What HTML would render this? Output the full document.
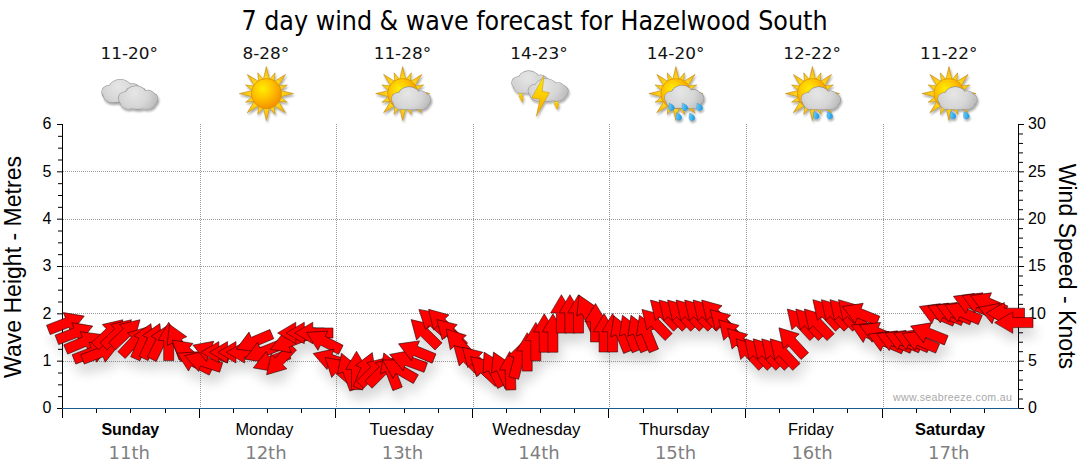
<!DOCTYPE html>
<html lang="en"><head><meta charset="utf-8"><title>7 day wind &amp; wave forecast for Hazelwood South</title>
<style>
html,body{margin:0;padding:0;background:#fff;}
body{width:1080px;height:475px;overflow:hidden;font-family:"Liberation Sans",sans-serif;}
svg{display:block;}
.ax{font-family:"Liberation Sans",sans-serif;font-size:16px;fill:#000;}
.ttl{font-family:"DejaVu Sans Condensed","DejaVu Sans",sans-serif;font-size:26.5px;fill:#000;}
.tmp{font-family:"DejaVu Sans","Liberation Sans",sans-serif;font-size:16.1px;fill:#111;}
.day{font-family:"Liberation Sans",sans-serif;font-size:16px;fill:#000;}
.dte{font-family:"DejaVu Sans","Liberation Sans",sans-serif;font-size:18px;fill:#7f7f7f;}
.ylab{font-family:"Liberation Sans",sans-serif;font-size:22px;fill:#000;}
.wm{font-family:"Liberation Sans",sans-serif;font-size:10.6px;fill:#a9a9a9;letter-spacing:.05px;}
</style></head><body>
<svg width="1080" height="475" viewBox="0 0 1080 475">
<defs>
<radialGradient id="gSun" cx="38%" cy="34%" r="70%">
 <stop offset="0" stop-color="#ffee00"/><stop offset=".45" stop-color="#ffc400"/><stop offset="1" stop-color="#f28c00"/>
</radialGradient>
<radialGradient id="gRay" gradientUnits="userSpaceOnUse" cx="0" cy="0" r="28">
 <stop offset=".5" stop-color="#ffdc1e"/><stop offset="1" stop-color="#f9a90a"/>
</radialGradient>
<radialGradient id="gCloud" gradientUnits="userSpaceOnUse" cx="16" cy="7" r="28">
 <stop offset="0" stop-color="#e6e6e6"/><stop offset=".5" stop-color="#d6d6d6"/><stop offset="1" stop-color="#b0b0b0"/>
</radialGradient>
<linearGradient id="gDrop" x1="0" y1="0" x2="1" y2="1">
 <stop offset="0" stop-color="#9be0ff"/><stop offset=".55" stop-color="#3fb4f0"/><stop offset="1" stop-color="#1490dc"/>
</linearGradient>
<linearGradient id="gBolt" x1="0" y1="0" x2="0" y2="1">
 <stop offset="0" stop-color="#fff200"/><stop offset="1" stop-color="#f7a400"/>
</linearGradient>
<filter id="sh" x="-5%" y="-50%" width="110%" height="250%">
 <feGaussianBlur in="SourceAlpha" stdDeviation="6"/>
 <feOffset dx="3" dy="10" result="b"/>
 <feComponentTransfer><feFuncA type="linear" slope=".16"/></feComponentTransfer>
</filter>
<filter id="ish" x="-20%" y="-20%" width="140%" height="150%">
 <feGaussianBlur in="SourceAlpha" stdDeviation="1.2"/>
 <feOffset dx="1" dy="1.5"/>
 <feComponentTransfer><feFuncA type="linear" slope=".35"/></feComponentTransfer>
 <feMerge><feMergeNode/><feMergeNode in="SourceGraphic"/></feMerge>
</filter>
<g id="cloud"><ellipse cx="7" cy="12.3" rx="7.55" ry="6.85" fill="#8f8f8f"/><ellipse cx="17.5" cy="9.2" rx="11.350000000000001" ry="9.75" fill="#8f8f8f"/><ellipse cx="29.5" cy="9.8" rx="6.75" ry="6.1499999999999995" fill="#8f8f8f"/><ellipse cx="32.6" cy="13" rx="7.35" ry="6.85" fill="#8f8f8f"/><ellipse cx="19.5" cy="15" rx="15.55" ry="8.65" fill="#8f8f8f"/><ellipse cx="10" cy="16.3" rx="8.75" ry="7.1499999999999995" fill="#8f8f8f"/><ellipse cx="28.5" cy="16.6" rx="9.15" ry="6.95" fill="#8f8f8f"/><ellipse cx="7" cy="12.3" rx="7" ry="6.3" fill="url(#gCloud)"/><ellipse cx="17.5" cy="9.2" rx="10.8" ry="9.2" fill="url(#gCloud)"/><ellipse cx="29.5" cy="9.8" rx="6.2" ry="5.6" fill="url(#gCloud)"/><ellipse cx="32.6" cy="13" rx="6.8" ry="6.3" fill="url(#gCloud)"/><ellipse cx="19.5" cy="15" rx="15" ry="8.1" fill="url(#gCloud)"/><ellipse cx="10" cy="16.3" rx="8.2" ry="6.6" fill="url(#gCloud)"/><ellipse cx="28.5" cy="16.6" rx="8.6" ry="6.4" fill="url(#gCloud)"/></g>
<path id="drop" d="M0,-5.2 C2.6,-2.2 3.9,-0.2 3.9,1.8 A3.9,3.9 0 0 1 -3.9,1.8 C-3.9,-0.2 -1.4,-2.6 0,-5.2 Z" fill="url(#gDrop)" stroke="#2a86c4" stroke-width=".5" transform="rotate(-28) scale(.74)"/>
<g id="sun">
<path d="M3.10,-14.00 L0.00,-27.00 L-3.10,-14.00 Z M7.67,-11.98 L8.61,-20.79 L3.05,-13.89 Z M12.09,-7.71 L19.09,-19.09 L7.71,-12.09 Z M13.89,-3.05 L20.79,-8.61 L11.98,-7.67 Z M14.00,3.10 L27.00,0.00 L14.00,-3.10 Z M11.98,7.67 L20.79,8.61 L13.89,3.05 Z M7.71,12.09 L19.09,19.09 L12.09,7.71 Z M3.05,13.89 L8.61,20.79 L7.67,11.98 Z M-3.10,14.00 L0.00,27.00 L3.10,14.00 Z M-7.67,11.98 L-8.61,20.79 L-3.05,13.89 Z M-12.09,7.71 L-19.09,19.09 L-7.71,12.09 Z M-13.89,3.05 L-20.79,8.61 L-11.98,7.67 Z M-14.00,-3.10 L-27.00,0.00 L-14.00,3.10 Z M-11.98,-7.67 L-20.79,-8.61 L-13.89,-3.05 Z M-7.71,-12.09 L-19.09,-19.09 L-12.09,-7.71 Z M-3.05,-13.89 L-8.61,-20.79 L-7.67,-11.98 Z" fill="url(#gRay)" stroke="#b98a12" stroke-width=".6" stroke-linejoin="round"/>
<circle r="15.1" fill="url(#gSun)" stroke="#d98e00" stroke-width=".7"/>
</g>
<path id="ar" d="M-19.2,-5 L1,-5 L1,-10.75 L19.2,0 L1,10.75 L1,5 L-19.2,5 Z"/>
</defs>
<rect width="1080" height="475" fill="#fff"/>
<text class="ttl" x="241.5" y="29.7" textLength="586" lengthAdjust="spacingAndGlyphs">7 day wind &amp; wave forecast for Hazelwood South</text>
<text class="tmp" x="129.3" y="59.2" text-anchor="middle" textLength="57.5" lengthAdjust="spacingAndGlyphs">11-20°</text>
<text class="tmp" x="265.9" y="59.2" text-anchor="middle" textLength="46.8" lengthAdjust="spacingAndGlyphs">8-28°</text>
<text class="tmp" x="402.4" y="59.2" text-anchor="middle" textLength="57.5" lengthAdjust="spacingAndGlyphs">11-28°</text>
<text class="tmp" x="539.0" y="59.2" text-anchor="middle" textLength="57.5" lengthAdjust="spacingAndGlyphs">14-23°</text>
<text class="tmp" x="675.6" y="59.2" text-anchor="middle" textLength="57.5" lengthAdjust="spacingAndGlyphs">14-20°</text>
<text class="tmp" x="812.1" y="59.2" text-anchor="middle" textLength="57.5" lengthAdjust="spacingAndGlyphs">12-22°</text>
<text class="tmp" x="948.7" y="59.2" text-anchor="middle" textLength="57.5" lengthAdjust="spacingAndGlyphs">11-22°</text>
<g fill="none" stroke="#9c9c9c" stroke-width="1" stroke-dasharray="1 1" shape-rendering="crispEdges">
<path d="M63,361.5 H1018"/>
<path d="M63,313.5 H1018"/>
<path d="M63,266.5 H1018"/>
<path d="M63,219.5 H1018"/>
<path d="M63,171.5 H1018"/>
<path d="M200.5,124 V408"/>
<path d="M336.5,124 V408"/>
<path d="M473.5,124 V408"/>
<path d="M609.5,124 V408"/>
<path d="M746.5,124 V408"/>
<path d="M883.5,124 V408"/>
</g>
<g fill="none" stroke="#000" stroke-width="1" shape-rendering="crispEdges">
<path d="M62.5,124 V418"/>
<path d="M1018.5,124 V409"/>
<path d="M57,408.50 H63" shape-rendering="auto"/>
<path d="M58,396.67 H63" shape-rendering="auto"/>
<path d="M58,384.83 H63" shape-rendering="auto"/>
<path d="M58,373.00 H63" shape-rendering="auto"/>
<path d="M57,361.17 H63" shape-rendering="auto"/>
<path d="M58,349.33 H63" shape-rendering="auto"/>
<path d="M58,337.50 H63" shape-rendering="auto"/>
<path d="M58,325.67 H63" shape-rendering="auto"/>
<path d="M57,313.83 H63" shape-rendering="auto"/>
<path d="M58,302.00 H63" shape-rendering="auto"/>
<path d="M58,290.17 H63" shape-rendering="auto"/>
<path d="M58,278.33 H63" shape-rendering="auto"/>
<path d="M57,266.50 H63" shape-rendering="auto"/>
<path d="M58,254.67 H63" shape-rendering="auto"/>
<path d="M58,242.83 H63" shape-rendering="auto"/>
<path d="M58,231.00 H63" shape-rendering="auto"/>
<path d="M57,219.17 H63" shape-rendering="auto"/>
<path d="M58,207.33 H63" shape-rendering="auto"/>
<path d="M58,195.50 H63" shape-rendering="auto"/>
<path d="M58,183.67 H63" shape-rendering="auto"/>
<path d="M57,171.83 H63" shape-rendering="auto"/>
<path d="M58,160.00 H63" shape-rendering="auto"/>
<path d="M58,148.17 H63" shape-rendering="auto"/>
<path d="M58,136.33 H63" shape-rendering="auto"/>
<path d="M57,124.50 H63" shape-rendering="auto"/>
<path d="M1018,408.50 H1024" shape-rendering="auto"/>
<path d="M1018,399.03 H1023" shape-rendering="auto"/>
<path d="M1018,389.57 H1023" shape-rendering="auto"/>
<path d="M1018,380.10 H1023" shape-rendering="auto"/>
<path d="M1018,370.63 H1023" shape-rendering="auto"/>
<path d="M1018,361.17 H1024" shape-rendering="auto"/>
<path d="M1018,351.70 H1023" shape-rendering="auto"/>
<path d="M1018,342.23 H1023" shape-rendering="auto"/>
<path d="M1018,332.77 H1023" shape-rendering="auto"/>
<path d="M1018,323.30 H1023" shape-rendering="auto"/>
<path d="M1018,313.83 H1024" shape-rendering="auto"/>
<path d="M1018,304.37 H1023" shape-rendering="auto"/>
<path d="M1018,294.90 H1023" shape-rendering="auto"/>
<path d="M1018,285.43 H1023" shape-rendering="auto"/>
<path d="M1018,275.97 H1023" shape-rendering="auto"/>
<path d="M1018,266.50 H1024" shape-rendering="auto"/>
<path d="M1018,257.03 H1023" shape-rendering="auto"/>
<path d="M1018,247.57 H1023" shape-rendering="auto"/>
<path d="M1018,238.10 H1023" shape-rendering="auto"/>
<path d="M1018,228.63 H1023" shape-rendering="auto"/>
<path d="M1018,219.17 H1024" shape-rendering="auto"/>
<path d="M1018,209.70 H1023" shape-rendering="auto"/>
<path d="M1018,200.23 H1023" shape-rendering="auto"/>
<path d="M1018,190.77 H1023" shape-rendering="auto"/>
<path d="M1018,181.30 H1023" shape-rendering="auto"/>
<path d="M1018,171.83 H1024" shape-rendering="auto"/>
<path d="M1018,162.37 H1023" shape-rendering="auto"/>
<path d="M1018,152.90 H1023" shape-rendering="auto"/>
<path d="M1018,143.43 H1023" shape-rendering="auto"/>
<path d="M1018,133.97 H1023" shape-rendering="auto"/>
<path d="M1018,124.50 H1024" shape-rendering="auto"/>
<path d="M62.5,408 V418"/>
<path d="M96.5,408 V413"/>
<path d="M130.5,408 V413"/>
<path d="M165.5,408 V413"/>
<path d="M199.5,408 V418"/>
<path d="M233.5,408 V413"/>
<path d="M267.5,408 V413"/>
<path d="M301.5,408 V413"/>
<path d="M335.5,408 V418"/>
<path d="M369.5,408 V413"/>
<path d="M404.5,408 V413"/>
<path d="M438.5,408 V413"/>
<path d="M472.5,408 V418"/>
<path d="M506.5,408 V413"/>
<path d="M540.5,408 V413"/>
<path d="M574.5,408 V413"/>
<path d="M608.5,408 V418"/>
<path d="M643.5,408 V413"/>
<path d="M677.5,408 V413"/>
<path d="M711.5,408 V413"/>
<path d="M745.5,408 V418"/>
<path d="M779.5,408 V413"/>
<path d="M813.5,408 V413"/>
<path d="M847.5,408 V413"/>
<path d="M882.5,408 V418"/>
<path d="M916.5,408 V413"/>
<path d="M950.5,408 V413"/>
<path d="M984.5,408 V413"/>
</g>
<path d="M62,408.5 H1019" stroke="#1c5a8c" stroke-width="1" fill="none" shape-rendering="crispEdges"/>
<text class="ax" x="51.5" y="413.3" text-anchor="end">0</text>
<text class="ax" x="51.5" y="366.0" text-anchor="end">1</text>
<text class="ax" x="51.5" y="318.6" text-anchor="end">2</text>
<text class="ax" x="51.5" y="271.3" text-anchor="end">3</text>
<text class="ax" x="51.5" y="224.0" text-anchor="end">4</text>
<text class="ax" x="51.5" y="176.6" text-anchor="end">5</text>
<text class="ax" x="51.5" y="129.3" text-anchor="end">6</text>
<text class="ax" x="1028" y="413.3">0</text>
<text class="ax" x="1028" y="366.0">5</text>
<text class="ax" x="1028" y="318.6">10</text>
<text class="ax" x="1028" y="271.3">15</text>
<text class="ax" x="1028" y="224.0">20</text>
<text class="ax" x="1028" y="176.6">25</text>
<text class="ax" x="1028" y="129.3">30</text>
<text class="ylab" style="font-size:23px" transform="translate(20.9,267) rotate(-90)" text-anchor="middle" textLength="222" lengthAdjust="spacingAndGlyphs">Wave Height - Metres</text>
<text class="ylab" style="font-size:23px" transform="translate(1059,266.4) rotate(90)" text-anchor="middle" textLength="205.5" lengthAdjust="spacingAndGlyphs">Wind Speed - Knots</text>
<text class="wm" x="893" y="401.3" textLength="119" lengthAdjust="spacing">www.seabreeze.com.au</text>
<g filter="url(#sh)" fill="#000"><use href="#ar" transform="translate(66.3,323.0) rotate(-21.0)"/>
<use href="#ar" transform="translate(74.8,333.0) rotate(-21.0)"/>
<use href="#ar" transform="translate(83.4,342.0) rotate(-23.0)"/>
<use href="#ar" transform="translate(91.9,352.5) rotate(-21.0)"/>
<use href="#ar" transform="translate(100.4,352.5) rotate(-21.0)"/>
<use href="#ar" transform="translate(109.0,333.0) rotate(-43.6)"/>
<use href="#ar" transform="translate(117.5,333.0) rotate(-43.6)"/>
<use href="#ar" transform="translate(126.1,333.0) rotate(-43.6)"/>
<use href="#ar" transform="translate(134.6,341.0) rotate(-47.0)"/>
<use href="#ar" transform="translate(143.1,341.2) rotate(-66.0)"/>
<use href="#ar" transform="translate(151.7,341.0) rotate(-65.0)"/>
<use href="#ar" transform="translate(160.2,342.0) rotate(-64.0)"/>
<use href="#ar" transform="translate(168.7,341.4) rotate(-90.0)"/>
<use href="#ar" transform="translate(177.3,342.0) rotate(-114.0)"/>
<use href="#ar" transform="translate(186.8,352.3) rotate(-140.0)"/>
<use href="#ar" transform="translate(194.3,361.9) rotate(-153.0)"/>
<use href="#ar" transform="translate(202.9,361.5) rotate(-162.0)"/>
<use href="#ar" transform="translate(211.0,351.7) rotate(-160.0)"/>
<use href="#ar" transform="translate(219.9,352.3) rotate(180.0)"/>
<use href="#ar" transform="translate(228.5,352.3) rotate(180.0)"/>
<use href="#ar" transform="translate(237.0,352.3) rotate(180.0)"/>
<use href="#ar" transform="translate(245.6,352.3) rotate(180.0)"/>
<use href="#ar" transform="translate(254.1,341.6) rotate(157.0)"/>
<use href="#ar" transform="translate(262.6,352.0) rotate(158.0)"/>
<use href="#ar" transform="translate(271.2,361.0) rotate(159.0)"/>
<use href="#ar" transform="translate(279.7,360.7) rotate(133.0)"/>
<use href="#ar" transform="translate(288.2,342.3) rotate(158.5)"/>
<use href="#ar" transform="translate(296.8,333.0) rotate(180.0)"/>
<use href="#ar" transform="translate(305.3,333.0) rotate(180.0)"/>
<use href="#ar" transform="translate(313.8,333.0) rotate(180.0)"/>
<use href="#ar" transform="translate(323.7,341.1) rotate(-153.0)"/>
<use href="#ar" transform="translate(331.4,359.6) rotate(-161.5)"/>
<use href="#ar" transform="translate(339.5,370.0) rotate(-139.0)"/>
<use href="#ar" transform="translate(348.0,371.3) rotate(-110.0)"/>
<use href="#ar" transform="translate(356.5,370.4) rotate(-90.0)"/>
<use href="#ar" transform="translate(365.1,370.4) rotate(-68.0)"/>
<use href="#ar" transform="translate(373.6,371.1) rotate(-45.0)"/>
<use href="#ar" transform="translate(382.1,371.1) rotate(-45.0)"/>
<use href="#ar" transform="translate(390.7,370.9) rotate(-111.0)"/>
<use href="#ar" transform="translate(399.2,369.6) rotate(-150.0)"/>
<use href="#ar" transform="translate(407.7,361.0) rotate(-160.0)"/>
<use href="#ar" transform="translate(416.3,351.2) rotate(-157.5)"/>
<use href="#ar" transform="translate(424.8,333.0) rotate(-135.6)"/>
<use href="#ar" transform="translate(433.3,322.1) rotate(-138.6)"/>
<use href="#ar" transform="translate(441.9,323.1) rotate(-134.0)"/>
<use href="#ar" transform="translate(450.4,333.0) rotate(-135.5)"/>
<use href="#ar" transform="translate(459.0,343.3) rotate(-132.0)"/>
<use href="#ar" transform="translate(467.5,359.0) rotate(-135.6)"/>
<use href="#ar" transform="translate(476.0,360.6) rotate(-135.5)"/>
<use href="#ar" transform="translate(484.6,369.7) rotate(-137.0)"/>
<use href="#ar" transform="translate(493.1,369.1) rotate(-118.0)"/>
<use href="#ar" transform="translate(501.6,369.5) rotate(-115.0)"/>
<use href="#ar" transform="translate(510.2,370.7) rotate(-92.0)"/>
<use href="#ar" transform="translate(518.7,359.5) rotate(-75.0)"/>
<use href="#ar" transform="translate(527.2,351.9) rotate(-90.0)"/>
<use href="#ar" transform="translate(535.8,341.6) rotate(-90.0)"/>
<use href="#ar" transform="translate(544.3,333.0) rotate(-90.0)"/>
<use href="#ar" transform="translate(552.9,333.0) rotate(-90.0)"/>
<use href="#ar" transform="translate(561.4,313.9) rotate(-90.0)"/>
<use href="#ar" transform="translate(569.9,313.9) rotate(-90.0)"/>
<use href="#ar" transform="translate(578.5,313.9) rotate(-90.0)"/>
<use href="#ar" transform="translate(587.0,312.5) rotate(-114.6)"/>
<use href="#ar" transform="translate(595.5,322.7) rotate(-90.0)"/>
<use href="#ar" transform="translate(604.1,332.8) rotate(-90.0)"/>
<use href="#ar" transform="translate(612.6,332.8) rotate(-90.0)"/>
<use href="#ar" transform="translate(621.1,333.8) rotate(-112.0)"/>
<use href="#ar" transform="translate(629.7,333.1) rotate(-112.0)"/>
<use href="#ar" transform="translate(638.2,333.1) rotate(-112.0)"/>
<use href="#ar" transform="translate(646.7,333.1) rotate(-112.0)"/>
<use href="#ar" transform="translate(655.3,323.2) rotate(-134.0)"/>
<use href="#ar" transform="translate(663.8,313.9) rotate(-134.0)"/>
<use href="#ar" transform="translate(672.4,313.9) rotate(-134.0)"/>
<use href="#ar" transform="translate(680.9,313.9) rotate(-134.0)"/>
<use href="#ar" transform="translate(689.4,313.9) rotate(-134.0)"/>
<use href="#ar" transform="translate(698.0,313.9) rotate(-134.0)"/>
<use href="#ar" transform="translate(706.5,313.9) rotate(-134.0)"/>
<use href="#ar" transform="translate(715.0,313.9) rotate(-134.0)"/>
<use href="#ar" transform="translate(723.6,323.4) rotate(-134.0)"/>
<use href="#ar" transform="translate(732.1,333.6) rotate(-134.0)"/>
<use href="#ar" transform="translate(740.6,342.5) rotate(-133.0)"/>
<use href="#ar" transform="translate(749.2,352.9) rotate(-133.0)"/>
<use href="#ar" transform="translate(757.7,352.9) rotate(-133.0)"/>
<use href="#ar" transform="translate(766.3,352.9) rotate(-133.0)"/>
<use href="#ar" transform="translate(774.8,352.9) rotate(-133.0)"/>
<use href="#ar" transform="translate(783.3,352.9) rotate(-133.0)"/>
<use href="#ar" transform="translate(791.9,342.0) rotate(-132.4)"/>
<use href="#ar" transform="translate(800.4,323.1) rotate(-133.0)"/>
<use href="#ar" transform="translate(808.9,323.1) rotate(-133.0)"/>
<use href="#ar" transform="translate(817.5,323.1) rotate(-133.0)"/>
<use href="#ar" transform="translate(826.0,313.7) rotate(-133.0)"/>
<use href="#ar" transform="translate(834.5,313.7) rotate(-133.0)"/>
<use href="#ar" transform="translate(843.1,313.7) rotate(-133.0)"/>
<use href="#ar" transform="translate(851.6,313.7) rotate(-133.0)"/>
<use href="#ar" transform="translate(860.1,313.7) rotate(-158.0)"/>
<use href="#ar" transform="translate(868.7,333.2) rotate(-155.0)"/>
<use href="#ar" transform="translate(877.2,332.7) rotate(-157.0)"/>
<use href="#ar" transform="translate(885.8,341.7) rotate(-157.0)"/>
<use href="#ar" transform="translate(894.3,341.1) rotate(-157.0)"/>
<use href="#ar" transform="translate(902.8,340.7) rotate(-157.0)"/>
<use href="#ar" transform="translate(911.4,340.5) rotate(-157.0)"/>
<use href="#ar" transform="translate(919.9,341.0) rotate(-157.0)"/>
<use href="#ar" transform="translate(928.4,333.2) rotate(-158.3)"/>
<use href="#ar" transform="translate(937.0,314.0) rotate(-157.0)"/>
<use href="#ar" transform="translate(945.5,313.4) rotate(-157.0)"/>
<use href="#ar" transform="translate(954.0,312.7) rotate(-157.0)"/>
<use href="#ar" transform="translate(962.6,312.5) rotate(-157.0)"/>
<use href="#ar" transform="translate(971.1,303.8) rotate(-157.0)"/>
<use href="#ar" transform="translate(979.7,303.1) rotate(-157.0)"/>
<use href="#ar" transform="translate(988.2,303.1) rotate(-157.0)"/>
<use href="#ar" transform="translate(996.7,313.9) rotate(-160.0)"/>
<use href="#ar" transform="translate(1005.3,313.2) rotate(180.0)"/>
<use href="#ar" transform="translate(1013.8,322.6) rotate(180.0)"/></g>
<g fill="#ff0000" stroke="#200000" stroke-width=".55" stroke-linejoin="miter"><use href="#ar" transform="translate(66.3,323.0) rotate(-21.0)"/>
<use href="#ar" transform="translate(74.8,333.0) rotate(-21.0)"/>
<use href="#ar" transform="translate(83.4,342.0) rotate(-23.0)"/>
<use href="#ar" transform="translate(91.9,352.5) rotate(-21.0)"/>
<use href="#ar" transform="translate(100.4,352.5) rotate(-21.0)"/>
<use href="#ar" transform="translate(109.0,333.0) rotate(-43.6)"/>
<use href="#ar" transform="translate(117.5,333.0) rotate(-43.6)"/>
<use href="#ar" transform="translate(126.1,333.0) rotate(-43.6)"/>
<use href="#ar" transform="translate(134.6,341.0) rotate(-47.0)"/>
<use href="#ar" transform="translate(143.1,341.2) rotate(-66.0)"/>
<use href="#ar" transform="translate(151.7,341.0) rotate(-65.0)"/>
<use href="#ar" transform="translate(160.2,342.0) rotate(-64.0)"/>
<use href="#ar" transform="translate(168.7,341.4) rotate(-90.0)"/>
<use href="#ar" transform="translate(177.3,342.0) rotate(-114.0)"/>
<use href="#ar" transform="translate(186.8,352.3) rotate(-140.0)"/>
<use href="#ar" transform="translate(194.3,361.9) rotate(-153.0)"/>
<use href="#ar" transform="translate(202.9,361.5) rotate(-162.0)"/>
<use href="#ar" transform="translate(211.0,351.7) rotate(-160.0)"/>
<use href="#ar" transform="translate(219.9,352.3) rotate(180.0)"/>
<use href="#ar" transform="translate(228.5,352.3) rotate(180.0)"/>
<use href="#ar" transform="translate(237.0,352.3) rotate(180.0)"/>
<use href="#ar" transform="translate(245.6,352.3) rotate(180.0)"/>
<use href="#ar" transform="translate(254.1,341.6) rotate(157.0)"/>
<use href="#ar" transform="translate(262.6,352.0) rotate(158.0)"/>
<use href="#ar" transform="translate(271.2,361.0) rotate(159.0)"/>
<use href="#ar" transform="translate(279.7,360.7) rotate(133.0)"/>
<use href="#ar" transform="translate(288.2,342.3) rotate(158.5)"/>
<use href="#ar" transform="translate(296.8,333.0) rotate(180.0)"/>
<use href="#ar" transform="translate(305.3,333.0) rotate(180.0)"/>
<use href="#ar" transform="translate(313.8,333.0) rotate(180.0)"/>
<use href="#ar" transform="translate(323.7,341.1) rotate(-153.0)"/>
<use href="#ar" transform="translate(331.4,359.6) rotate(-161.5)"/>
<use href="#ar" transform="translate(339.5,370.0) rotate(-139.0)"/>
<use href="#ar" transform="translate(348.0,371.3) rotate(-110.0)"/>
<use href="#ar" transform="translate(356.5,370.4) rotate(-90.0)"/>
<use href="#ar" transform="translate(365.1,370.4) rotate(-68.0)"/>
<use href="#ar" transform="translate(373.6,371.1) rotate(-45.0)"/>
<use href="#ar" transform="translate(382.1,371.1) rotate(-45.0)"/>
<use href="#ar" transform="translate(390.7,370.9) rotate(-111.0)"/>
<use href="#ar" transform="translate(399.2,369.6) rotate(-150.0)"/>
<use href="#ar" transform="translate(407.7,361.0) rotate(-160.0)"/>
<use href="#ar" transform="translate(416.3,351.2) rotate(-157.5)"/>
<use href="#ar" transform="translate(424.8,333.0) rotate(-135.6)"/>
<use href="#ar" transform="translate(433.3,322.1) rotate(-138.6)"/>
<use href="#ar" transform="translate(441.9,323.1) rotate(-134.0)"/>
<use href="#ar" transform="translate(450.4,333.0) rotate(-135.5)"/>
<use href="#ar" transform="translate(459.0,343.3) rotate(-132.0)"/>
<use href="#ar" transform="translate(467.5,359.0) rotate(-135.6)"/>
<use href="#ar" transform="translate(476.0,360.6) rotate(-135.5)"/>
<use href="#ar" transform="translate(484.6,369.7) rotate(-137.0)"/>
<use href="#ar" transform="translate(493.1,369.1) rotate(-118.0)"/>
<use href="#ar" transform="translate(501.6,369.5) rotate(-115.0)"/>
<use href="#ar" transform="translate(510.2,370.7) rotate(-92.0)"/>
<use href="#ar" transform="translate(518.7,359.5) rotate(-75.0)"/>
<use href="#ar" transform="translate(527.2,351.9) rotate(-90.0)"/>
<use href="#ar" transform="translate(535.8,341.6) rotate(-90.0)"/>
<use href="#ar" transform="translate(544.3,333.0) rotate(-90.0)"/>
<use href="#ar" transform="translate(552.9,333.0) rotate(-90.0)"/>
<use href="#ar" transform="translate(561.4,313.9) rotate(-90.0)"/>
<use href="#ar" transform="translate(569.9,313.9) rotate(-90.0)"/>
<use href="#ar" transform="translate(578.5,313.9) rotate(-90.0)"/>
<use href="#ar" transform="translate(587.0,312.5) rotate(-114.6)"/>
<use href="#ar" transform="translate(595.5,322.7) rotate(-90.0)"/>
<use href="#ar" transform="translate(604.1,332.8) rotate(-90.0)"/>
<use href="#ar" transform="translate(612.6,332.8) rotate(-90.0)"/>
<use href="#ar" transform="translate(621.1,333.8) rotate(-112.0)"/>
<use href="#ar" transform="translate(629.7,333.1) rotate(-112.0)"/>
<use href="#ar" transform="translate(638.2,333.1) rotate(-112.0)"/>
<use href="#ar" transform="translate(646.7,333.1) rotate(-112.0)"/>
<use href="#ar" transform="translate(655.3,323.2) rotate(-134.0)"/>
<use href="#ar" transform="translate(663.8,313.9) rotate(-134.0)"/>
<use href="#ar" transform="translate(672.4,313.9) rotate(-134.0)"/>
<use href="#ar" transform="translate(680.9,313.9) rotate(-134.0)"/>
<use href="#ar" transform="translate(689.4,313.9) rotate(-134.0)"/>
<use href="#ar" transform="translate(698.0,313.9) rotate(-134.0)"/>
<use href="#ar" transform="translate(706.5,313.9) rotate(-134.0)"/>
<use href="#ar" transform="translate(715.0,313.9) rotate(-134.0)"/>
<use href="#ar" transform="translate(723.6,323.4) rotate(-134.0)"/>
<use href="#ar" transform="translate(732.1,333.6) rotate(-134.0)"/>
<use href="#ar" transform="translate(740.6,342.5) rotate(-133.0)"/>
<use href="#ar" transform="translate(749.2,352.9) rotate(-133.0)"/>
<use href="#ar" transform="translate(757.7,352.9) rotate(-133.0)"/>
<use href="#ar" transform="translate(766.3,352.9) rotate(-133.0)"/>
<use href="#ar" transform="translate(774.8,352.9) rotate(-133.0)"/>
<use href="#ar" transform="translate(783.3,352.9) rotate(-133.0)"/>
<use href="#ar" transform="translate(791.9,342.0) rotate(-132.4)"/>
<use href="#ar" transform="translate(800.4,323.1) rotate(-133.0)"/>
<use href="#ar" transform="translate(808.9,323.1) rotate(-133.0)"/>
<use href="#ar" transform="translate(817.5,323.1) rotate(-133.0)"/>
<use href="#ar" transform="translate(826.0,313.7) rotate(-133.0)"/>
<use href="#ar" transform="translate(834.5,313.7) rotate(-133.0)"/>
<use href="#ar" transform="translate(843.1,313.7) rotate(-133.0)"/>
<use href="#ar" transform="translate(851.6,313.7) rotate(-133.0)"/>
<use href="#ar" transform="translate(860.1,313.7) rotate(-158.0)"/>
<use href="#ar" transform="translate(868.7,333.2) rotate(-155.0)"/>
<use href="#ar" transform="translate(877.2,332.7) rotate(-157.0)"/>
<use href="#ar" transform="translate(885.8,341.7) rotate(-157.0)"/>
<use href="#ar" transform="translate(894.3,341.1) rotate(-157.0)"/>
<use href="#ar" transform="translate(902.8,340.7) rotate(-157.0)"/>
<use href="#ar" transform="translate(911.4,340.5) rotate(-157.0)"/>
<use href="#ar" transform="translate(919.9,341.0) rotate(-157.0)"/>
<use href="#ar" transform="translate(928.4,333.2) rotate(-158.3)"/>
<use href="#ar" transform="translate(937.0,314.0) rotate(-157.0)"/>
<use href="#ar" transform="translate(945.5,313.4) rotate(-157.0)"/>
<use href="#ar" transform="translate(954.0,312.7) rotate(-157.0)"/>
<use href="#ar" transform="translate(962.6,312.5) rotate(-157.0)"/>
<use href="#ar" transform="translate(971.1,303.8) rotate(-157.0)"/>
<use href="#ar" transform="translate(979.7,303.1) rotate(-157.0)"/>
<use href="#ar" transform="translate(988.2,303.1) rotate(-157.0)"/>
<use href="#ar" transform="translate(996.7,313.9) rotate(-160.0)"/>
<use href="#ar" transform="translate(1005.3,313.2) rotate(180.0)"/>
<use href="#ar" transform="translate(1013.8,322.6) rotate(180.0)"/></g>
<text class="day" x="130.3" y="434.6" text-anchor="middle" font-weight="bold">Sunday</text>
<text class="dte" x="129.3" y="459.4" text-anchor="middle">11th</text>
<text class="day" x="264.5" y="434.6" text-anchor="middle" textLength="58.0" lengthAdjust="spacingAndGlyphs">Monday</text>
<text class="dte" x="265.9" y="459.4" text-anchor="middle">12th</text>
<text class="day" x="401.6" y="434.6" text-anchor="middle" textLength="64.4" lengthAdjust="spacingAndGlyphs">Tuesday</text>
<text class="dte" x="402.4" y="459.4" text-anchor="middle">13th</text>
<text class="day" x="536.4" y="434.6" text-anchor="middle" textLength="88.2" lengthAdjust="spacingAndGlyphs">Wednesday</text>
<text class="dte" x="539.0" y="459.4" text-anchor="middle">14th</text>
<text class="day" x="674.3" y="434.6" text-anchor="middle" textLength="70.6" lengthAdjust="spacingAndGlyphs">Thursday</text>
<text class="dte" x="675.6" y="459.4" text-anchor="middle">15th</text>
<text class="day" x="810.9" y="434.6" text-anchor="middle" textLength="45.6" lengthAdjust="spacingAndGlyphs">Friday</text>
<text class="dte" x="812.1" y="459.4" text-anchor="middle">16th</text>
<text class="day" x="950.1" y="434.6" text-anchor="middle" textLength="70.2" lengthAdjust="spacingAndGlyphs" font-weight="bold">Saturday</text>
<text class="dte" x="948.7" y="459.4" text-anchor="middle">17th</text>
<g filter="url(#ish)"><use href="#cloud" transform="translate(101.9,79.6) scale(1.05,1)"/><use href="#cloud" transform="translate(118.4,86)"/></g>
<g filter="url(#ish)"><use href="#sun" transform="translate(266.4,93.6)"/></g>
<g filter="url(#ish)"><use href="#sun" transform="translate(402.7,93.6)"/>
<use href="#cloud" transform="translate(391.6,86.9) scale(.995,.98)"/>
</g>
<g filter="url(#ish)">
<path d="M518.1,92.6 l4.6,0.8 l-1.2,3.0 l1.8,0.2 l-0.8,6.0 l-3.6,-6.4 l1.4,0 Z" fill="url(#gBolt)" stroke="#c98a0a" stroke-width=".4"/>
<path d="M553.9,101.2 l4.6,0.6 l-1.2,2.8 l1.8,0.2 l-2.0,4.4 l-3.0,-5.4 l1.4,0 Z" fill="url(#gBolt)" stroke="#c98a0a" stroke-width=".4"/>
<g opacity=".93"><use href="#cloud" transform="translate(511.8,70.9) scale(.97,.965)"/>
<use href="#cloud" transform="translate(528.2,78.7) scale(1.012,.97)"/></g>
<path d="M543.9,75.7 L531.8,97.9 L540.0,99.2 L536.3,116.2 L549.4,92.7 L542.2,91.4 Z" fill="url(#gBolt)" stroke="#c98a0a" stroke-width=".5"/>
</g>
<g filter="url(#ish)"><use href="#sun" transform="translate(675.9,93.6)"/>
<use href="#cloud" transform="translate(664.6,85.5) scale(.995,.99)"/>
<use href="#drop" transform="translate(670.9,106.6)"/>
<use href="#drop" transform="translate(684.2,106.6)"/>
<use href="#drop" transform="translate(699.0,106.6)"/>
<use href="#drop" transform="translate(678.1,116.2)"/>
<use href="#drop" transform="translate(691.3,116.6)"/>
</g>
<g filter="url(#ish)"><use href="#sun" transform="translate(812.4,93.6)"/>
<use href="#cloud" transform="translate(801.3,86.9) scale(.995,.98)"/>
<use href="#drop" transform="translate(815.7,114.9)"/>
<use href="#drop" transform="translate(829.1,114.9)"/>
</g>
<g filter="url(#ish)"><use href="#sun" transform="translate(949.0,93.6)"/>
<use href="#cloud" transform="translate(937.9,86.9) scale(.995,.98)"/>
<use href="#drop" transform="translate(952.3,114.9)"/>
<use href="#drop" transform="translate(965.7,114.9)"/>
</g>
</svg></body></html>
